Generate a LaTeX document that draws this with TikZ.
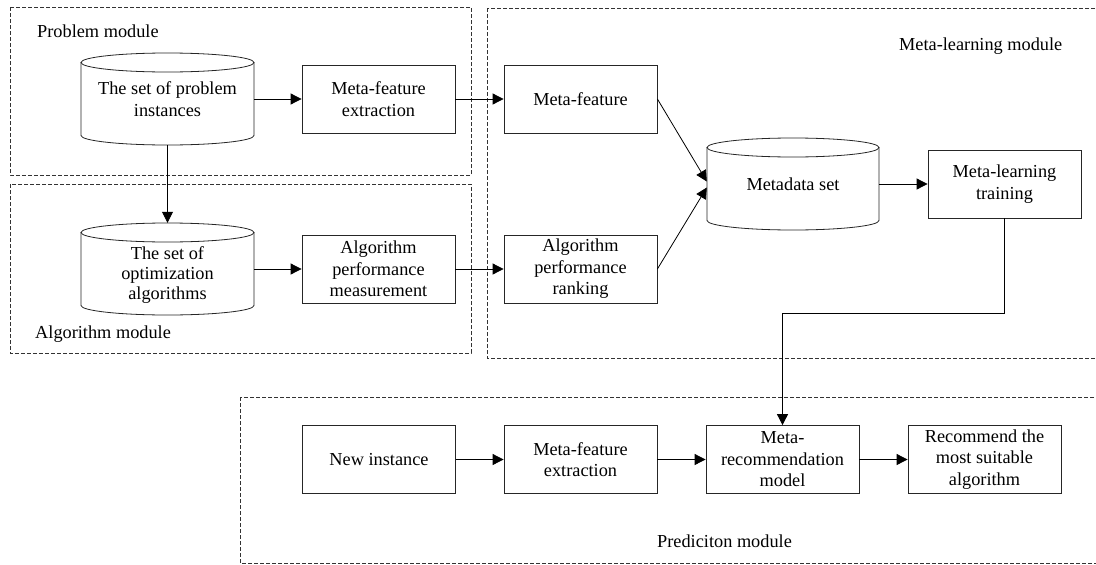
\documentclass[tikz,border=0pt]{standalone}
\usepackage{fontspec}
\setmainfont{Liberation Serif}
\usetikzlibrary{arrows.meta,calc}
\begin{document}
\begin{tikzpicture}[x=1pt,y=1pt,
  txt/.style={font=\fontsize{18.3}{21.5}\selectfont, align=center},
  stepbox/.style={draw=black!85, line width=0.8pt, minimum width=153pt, minimum height=68pt, inner sep=0pt, txt},
  cylbox/.style={draw=none, inner sep=0pt, txt},
  cylline/.style={draw=black!85, line width=0.8pt},
  module/.style={draw=black!80, line width=0.8pt, dash pattern=on 4pt off 2pt},
  modlabel/.style={font=\fontsize{18.3}{21.5}\selectfont, anchor=base west, inner sep=0pt},
  arr/.style={draw=black, line width=0.8pt, -{Triangle[length=11pt,width=11pt]}},
  conn/.style={draw=black, line width=0.8pt}
]
\clip (0,0) rectangle (1096,-565);
\fill[white] (0,0) rectangle (1096,-565);

% modules
\draw[module] (10,-7) rectangle (471,-175);
\draw[module] (10,-184) rectangle (471,-353);
\draw[module] (487,-8) rectangle (1110,-358);
\draw[module] (240,-397) rectangle (1110,-563);

\node[modlabel] (lprob) at (37,-37) {Problem module};
\node[modlabel] (lalg) at (35,-338) {Algorithm module};
\node[modlabel] (lmeta) at (899,-50) {Meta-learning module};
\node[modlabel] (lpred) at (657,-547) {Prediciton module};

% cylinders
\draw[cylline] (81,-62.5) -- (81,-135.5) arc[start angle=180,end angle=360,x radius=86.5,y radius=9.5] -- (254,-62.5);
\draw[cylline] (167.5,-62.5) ellipse[x radius=86.5,y radius=9.5];
\node[cylbox, minimum width=173pt, minimum height=92pt] (cyl1) at (167.5,-99) {The set of problem\\instances};

\draw[cylline] (81,-232.5) -- (81,-305.5) arc[start angle=180,end angle=360,x radius=86.5,y radius=9.5] -- (254,-232.5);
\draw[cylline] (167.5,-232.5) ellipse[x radius=86.5,y radius=9.5];
\node[cylbox, minimum width=173pt, minimum height=92pt] (cyl2) at (167.5,-269) {};
\node[font=\fontsize{18.3}{20}\selectfont, align=center, inner sep=0pt] (cyl2t) at (167.5,-275) {The set of\\optimization\\algorithms};

\draw[cylline] (707,-147.5) -- (707,-220.5) arc[start angle=180,end angle=360,x radius=86,y radius=9.5] -- (879,-147.5);
\draw[cylline] (793,-147.5) ellipse[x radius=86,y radius=9.5];
\node[cylbox, minimum width=172pt, minimum height=92pt] (meta) at (793,-184) {Metadata set};

% boxes
\node[stepbox] (mfe1) at (378.5,-99) {Meta-feature\\extraction};
\node[stepbox] (apm) at (378.5,-269) {Algorithm\\performance\\measurement};
\node[stepbox] (mf) at (580.5,-99) {Meta-feature};
\node[stepbox] (apr) at (580.5,-269) {Algorithm\\performance\\ranking};
\node[stepbox] (train) at (1004.5,-184) {Meta-learning\\training};

\node[stepbox] (ni) at (379,-459.5) {New instance};
\node[stepbox] (mfe2) at (580.5,-459.5) {Meta-feature\\extraction};
\node[stepbox] (mrm) at (782.5,-459.5) {Meta-\\recommendation\\model};
\node[stepbox] (rec) at (984.5,-459.5) {Recommend the\\most suitable\\algorithm};

% connectors
\draw[arr] (cyl1.east) -- (mfe1.west);
\draw[arr] (mfe1.east) -- (mf.west);
\draw[arr] (cyl1.south) -- (cyl2.north);
\draw[arr] (cyl2.east) -- (apm.west);
\draw[arr] (apm.east) -- (apr.west);
\draw[arr] (mf.east) -- ($(meta.west)+(0,2.5)$);
\draw[arr] (apr.east) -- ($(meta.west)+(0,-3.5)$);
\draw[arr] (meta.east) -- (train.west);
\coordinate (bend) at (1004.5,-313);
\draw[arr] (train.south) -- (bend) -| (mrm.north);
\draw[arr] (ni.east) -- (mfe2.west);
\draw[arr] (mfe2.east) -- (mrm.west);
\draw[arr] (mrm.east) -- (rec.west);
\end{tikzpicture}
\end{document}
